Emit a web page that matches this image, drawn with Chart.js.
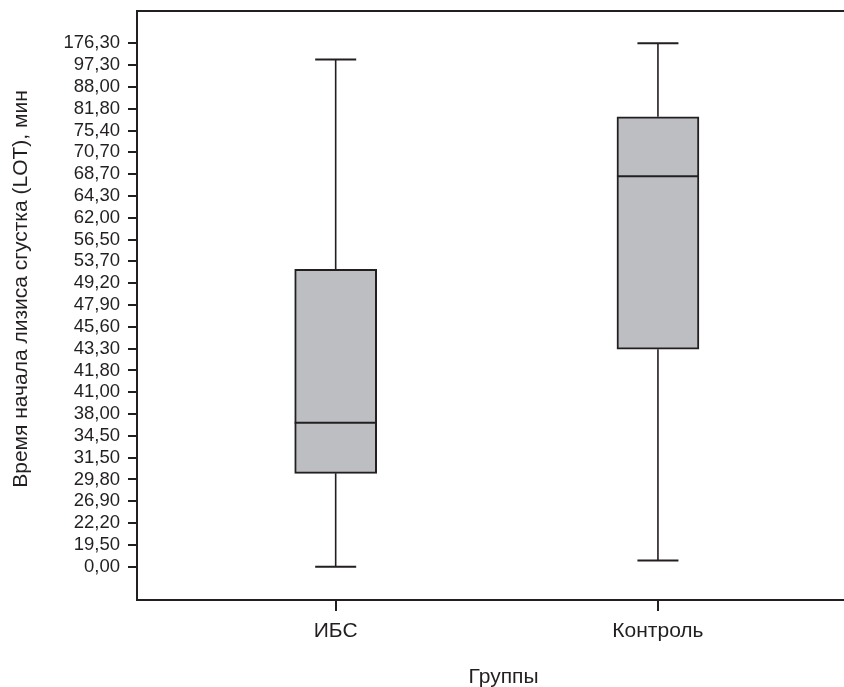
<!DOCTYPE html>
<html>
<head>
<meta charset="utf-8">
<script src="https://cdn.jsdelivr.net/npm/chart.js@4"></script>
<style>
    html, body { margin: 0; padding: 0; background: #fff; overflow: hidden; }
    #wrap { width: 870px; height: 687px; position: relative; }
</style>
</head>
<body>
<div id="wrap"><canvas id="boxChart"></canvas></div>
<script>
// ================= DATA =================
const groups = ["ИБС", "Контроль"];

// ordinal y axis: tick labels are evenly spaced, value = position index
const tickLabels = [
    "0,00", "19,50", "22,20", "26,90", "29,80", "31,50", "34,50", "38,00",
    "41,00", "41,80", "43,30", "45,60", "47,90", "49,20", "53,70", "56,50",
    "62,00", "64,30", "68,70", "70,70", "75,40", "81,80", "88,00", "97,30", "176,30"
];

// box plot stats, in axis positions
const whiskerLow = [0.0, 0.28];
const q1 = [4.28, 9.97];
const median = [6.60, 17.90];
const q3 = [13.64, 20.63];
const whiskerHigh = [23.26, 24.0];

const yTitle = "Время начала лизиса сгустка (LOT), мин";

const ink = "#231f20";
const boxFill = "#bdbec2";
const font = "'Liberation Sans', Arial, Helvetica, sans-serif";

// ================= WHISKERS + MEDIAN =================
const boxExtras = {
    id: "boxExtras",
    afterDatasetsDraw(chart) {
        const { ctx, chartArea, scales: { x, y } } = chart;
        ctx.save();
        ctx.strokeStyle = ink;

        // top frame line
        ctx.lineWidth = 2;
        ctx.beginPath();
        ctx.moveTo(chartArea.left - 1, chartArea.top);
        ctx.lineTo(chartArea.right, chartArea.top);
        ctx.stroke();

        groups.forEach((g, i) => {
            const cx = x.getPixelForValue(i);
            const half = 41;
            const capHalf = 20.5;

            ctx.lineWidth = 1.6;
            ctx.beginPath();
            ctx.moveTo(cx, y.getPixelForValue(q3[i]));
            ctx.lineTo(cx, y.getPixelForValue(whiskerHigh[i]));
            ctx.moveTo(cx, y.getPixelForValue(q1[i]));
            ctx.lineTo(cx, y.getPixelForValue(whiskerLow[i]));
            ctx.stroke();

            ctx.lineWidth = 2;
            ctx.beginPath();
            const yHi = y.getPixelForValue(whiskerHigh[i]);
            const yLo = y.getPixelForValue(whiskerLow[i]);
            ctx.moveTo(cx - capHalf, yHi);
            ctx.lineTo(cx + capHalf, yHi);
            ctx.moveTo(cx - capHalf, yLo);
            ctx.lineTo(cx + capHalf, yLo);
            ctx.stroke();

            const yMed = y.getPixelForValue(median[i]);
            ctx.lineWidth = 2;
            ctx.beginPath();
            ctx.moveTo(cx - half, yMed);
            ctx.lineTo(cx + half, yMed);
            ctx.stroke();
        });
        ctx.restore();
    },
    afterDraw(chart) {
        // y title sits a bit above the middle of the plot in the original
        const { ctx } = chart;
        ctx.save();
        ctx.translate(21, 289);
        ctx.rotate(-Math.PI / 2);
        ctx.fillStyle = ink;
        ctx.font = "21px " + font;
        ctx.textAlign = "center";
        ctx.textBaseline = "middle";
        ctx.fillText(yTitle, 0, 0);
        ctx.restore();
    }
};

// ================= CHART =================
const ctx = document.getElementById("boxChart").getContext("2d");
new Chart(ctx, {
    type: "bar",
    data: {
        datasets: [{
            data: groups.map((g, i) => ({ x: i, y: [q1[i], q3[i]] })),
            backgroundColor: boxFill,
            borderColor: ink,
            borderWidth: 2,
            borderSkipped: false,
            barThickness: 82
        }]
    },
    options: {
        responsive: true,
        maintainAspectRatio: false,
        animation: false,
        layout: { padding: { top: 11, left: 0, right: 0, bottom: 0 } },
        plugins: {
            legend: { display: false },
            tooltip: { enabled: false }
        },
        scales: {
            x: {
                type: "linear",
                offset: false,
                min: -0.6165,
                max: 1.658,
                afterBuildTicks: (scale) => {
                    scale.ticks = groups.map((g, i) => ({ value: i }));
                },
                afterFit: (scale) => {
                    scale.height = 87;
                    scale.paddingLeft = 0;
                    scale.paddingRight = 0;
                },
                ticks: {
                    autoSkip: false,
                    maxRotation: 0,
                    padding: 8,
                    color: ink,
                    font: { family: font, size: 21 },
                    callback: (v) => groups[v]
                },
                grid: { offset: false, drawOnChartArea: false, drawTicks: true, tickLength: 11, lineWidth: 2, color: ink },
                border: { display: true, width: 2, color: ink },
                title: {
                    display: true,
                    text: "Группы",
                    color: ink,
                    font: { family: font, size: 21 },
                    padding: { top: 0, bottom: -3 }
                }
            },
            y: {
                type: "linear",
                min: -1.527,
                max: 25.48,
                afterBuildTicks: (scale) => {
                    scale.ticks = tickLabels.map((t, i) => ({ value: i }));
                },
                afterFit: (scale) => {
                    scale.width = 137;
                    scale.paddingTop = 0;
                    scale.paddingBottom = 0;
                },
                ticks: {
                    autoSkip: false,
                    padding: 8,
                    color: ink,
                    font: { family: font, size: 18.5 },
                    callback: (v) => tickLabels[v]
                },
                grid: { drawOnChartArea: false, drawTicks: true, tickLength: 9, lineWidth: 2, color: ink },
                border: { display: true, width: 2, color: ink },
                title: { display: false }
            }
        }
    },
    plugins: [boxExtras]
});
</script>
</body>
</html>
